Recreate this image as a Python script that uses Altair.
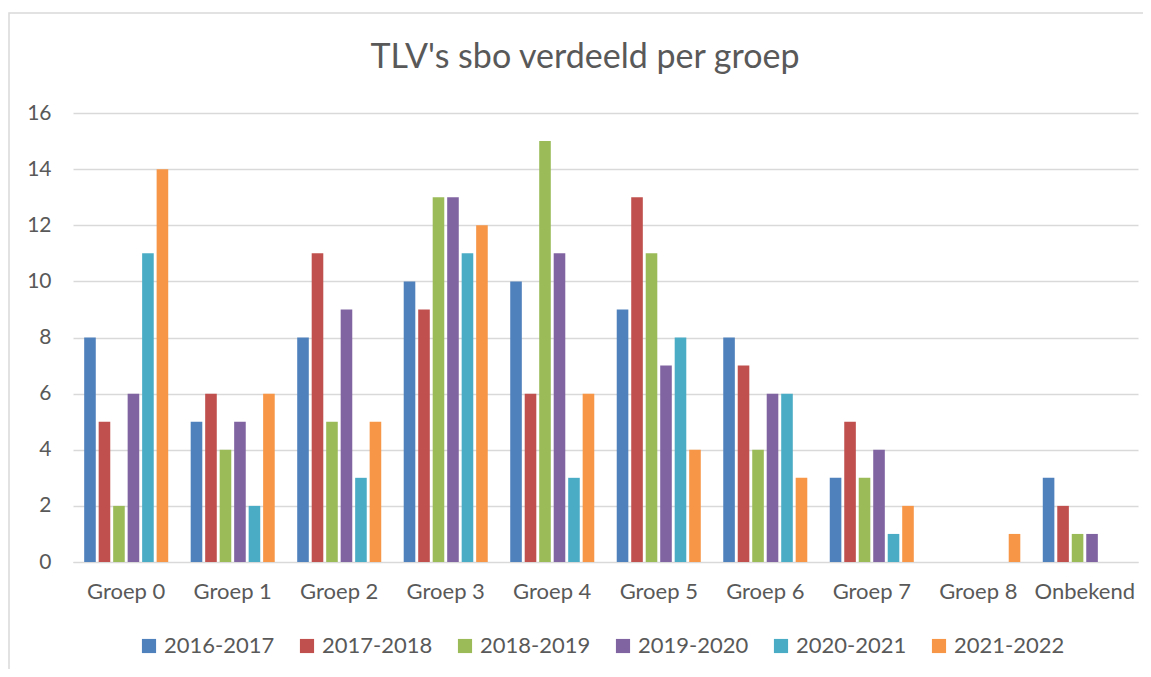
import altair as alt
import pandas as pd

groepen = ["Groep 0", "Groep 1", "Groep 2", "Groep 3", "Groep 4",
           "Groep 5", "Groep 6", "Groep 7", "Groep 8", "Onbekend"]
jaren = ["2016-2017", "2017-2018", "2018-2019", "2019-2020", "2020-2021", "2021-2022"]
kleuren = ["#4F81BD", "#C0504D", "#9BBB59", "#8064A2", "#4BACC6", "#F79646"]
titel = "TLV's sbo verdeeld per groep"

v_2016_2017 = [8, 5, 8, 10, 10, 9, 8, 3, 0, 3]
v_2017_2018 = [5, 6, 11, 9, 6, 13, 7, 5, 0, 2]
v_2018_2019 = [2, 4, 5, 13, 15, 11, 4, 3, 0, 1]
v_2019_2020 = [6, 5, 9, 13, 11, 7, 6, 4, 0, 1]
v_2020_2021 = [11, 2, 3, 11, 3, 8, 6, 1, 0, 0]
v_2021_2022 = [14, 6, 5, 12, 6, 4, 3, 2, 1, 0]

reeksen = [v_2016_2017, v_2017_2018, v_2018_2019, v_2019_2020, v_2020_2021, v_2021_2022]
rows = []
for jaar, vals in zip(jaren, reeksen):
    for g, v in zip(groepen, vals):
        rows.append({"groep": g, "jaar": jaar, "waarde": v})
df = pd.DataFrame(rows)

FONT = "Lato"
TXT = "#595959"

bars = alt.Chart(df).mark_bar().encode(
    x=alt.X("groep:N", sort=groepen, title=None,
            scale=alt.Scale(paddingInner=0.211, paddingOuter=0.105),
            axis=alt.Axis(labelAngle=0, labelFontSize=22, labelColor=TXT, labelFont=FONT,
                          ticks=False, domain=True, domainColor="#D9D9D9", labelPadding=19)),
    xOffset=alt.XOffset("jaar:N", sort=jaren, scale=alt.Scale(paddingInner=0.2)),
    y=alt.Y("waarde:Q", title=None, scale=alt.Scale(domain=[0, 16]),
            axis=alt.Axis(values=[0, 2, 4, 6, 8, 10, 12, 14, 16], labelFontSize=21,
                          labelColor=TXT, labelFont=FONT, ticks=False, domain=False,
                          gridColor="#D9D9D9", gridWidth=1.3, labelPadding=22)),
    color=alt.Color("jaar:N", sort=jaren, scale=alt.Scale(domain=jaren, range=kleuren),
                    legend=alt.Legend(title=None, orient="none", legendX=65, legendY=522,
                                      direction="horizontal", columns=6, gridAlign="all",
                                      symbolType="square", symbolSize=200, symbolStrokeWidth=0,
                                      labelFontSize=22, labelColor=TXT, labelFont=FONT,
                                      columnPadding=21, labelOffset=4)),
)

border = alt.Chart(pd.DataFrame({"a": [0]})).mark_rect(
    fill=None, stroke="#D9D9D9", strokeWidth=1.5
).encode(x=alt.value(-64), x2=alt.value(1090), y=alt.value(-100), y2=alt.value(600))

title_mark = alt.Chart(pd.DataFrame({"t": [titel]})).mark_text(
    font=FONT, fontSize=34, color=TXT, align="center", baseline="middle"
).encode(text="t:N", x=alt.value(512), y=alt.value(-55))

chart = alt.layer(border, bars, title_mark).properties(
    width=1065, height=449,
    padding={"left": 65, "top": 105, "right": 5, "bottom": 107},
    autosize=alt.AutoSizeParams(type="none"),
).configure_view(stroke=None)

chart.save("out.html", embed_options={"renderer": "svg", "actions": False})
